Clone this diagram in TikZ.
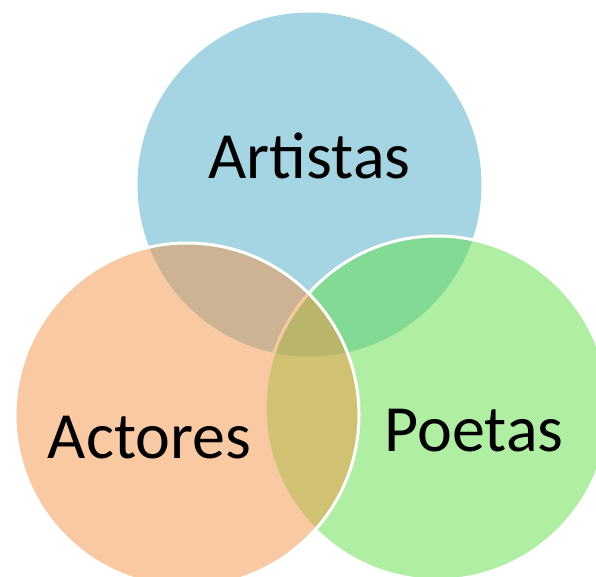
\documentclass[tikz,border=0pt]{standalone}
\usepackage{fontspec}
\setmainfont{Carlito}

\definecolor{setblue}{RGB}{165,213,226}
\definecolor{setgreen}{RGB}{97,223,71}
\definecolor{setorange}{RGB}{241,147,69}

\begin{document}
\begin{tikzpicture}[x=1pt,y=-1pt,
	setnode/.style={circle, minimum size=344pt, inner sep=0pt},
	overset/.style={setnode, fill opacity=0.5, draw=white, line width=3pt},
	lblnode/.style={anchor=base, font=\fontsize{66}{79}\selectfont}]
	\useasboundingbox (0,0) rectangle (596,577);
	\clip (0,0) rectangle (596,577);
	% the three sets
	\node[setnode, fill=setblue] (artset) at (309.5,184.5) {};
	\node[overset, fill=setgreen] (poeset) at (437,408) {};
	\node[overset, fill=setorange] (actset) at (187,415) {};
	% labels
	\node[lblnode] (artlbl) at (309.5,179) {Artistas};
	\node[lblnode] (actlbl) at (149.5,458) {Actores};
	\node[lblnode] (poelbl) at (474,451) {Poetas};
\end{tikzpicture}
\end{document}
